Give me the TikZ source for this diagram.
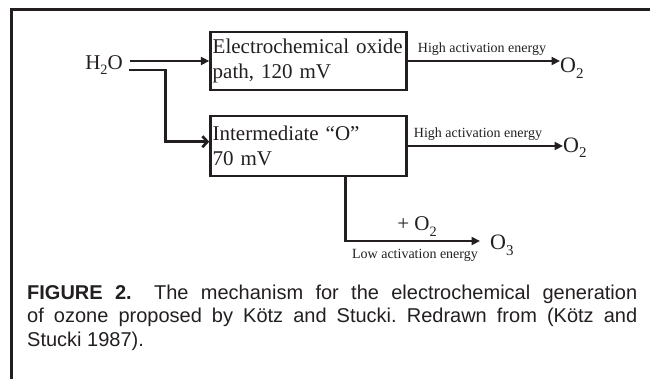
\documentclass[tikz,border=0pt]{standalone}
\usepackage{fontspec}
\usepackage{graphicx}
\setmainfont{Liberation Serif}
\newfontfamily\capfont{Liberation Sans}
\usetikzlibrary{arrows.meta}
\definecolor{ink}{RGB}{35,31,32}
\newcommand{\subsc}[1]{\raisebox{-0.24em}{\scalebox{0.68}{#1}}}
\frenchspacing
\begin{document}
\begin{tikzpicture}[x=1pt,y=-1pt,
  boxnode/.style={draw=ink, line width=2.8, minimum width=196, minimum height=58,
    inner xsep=2, inner ysep=0, text width=192, align=left,
    font=\fontsize{21}{25}\selectfont, text=ink},
  conn/.style={draw=ink, line width=2.7, -{Triangle[length=8.5,width=8]}},
  openconn/.style={draw=ink, line width=2.7, -{Straight Barb[length=5,width=11]}},
  chem/.style={inner sep=0, text=ink, font=\fontsize{21}{25}\selectfont},
  prod/.style={inner sep=0, text=ink, font=\fontsize{22}{26}\selectfont},
  small/.style={inner sep=0, text=ink, font=\fontsize{14}{16}\selectfont},
  captext/.style={inner sep=0, text=ink, anchor=base west, font=\capfont\fontsize{20}{24}\selectfont}]
\useasboundingbox (0,0) rectangle (650,379);
% frame
\draw[ink, line width=3.4] (11.7,379) -- (11.7,9.8) -- (650,9.8);
% boxes
\node[boxnode] (box1) at (308.7,61) {Electrochemical oxide\\path, 120 mV};
\node[boxnode, minimum height=60] (box2) at (308.6,146) {Intermediate “O”\\70 mV};
% H2O
\node[chem, anchor=base] (h2o) at (104,69.5) {H\subsc{2}O};
\coordinate (s1) at ([xshift=7,yshift=8.5]h2o.base east);
\coordinate (s2) at ([xshift=6,yshift=-0.5]h2o.base east);
\coordinate (bend) at (165.5,0);
\draw[conn] (s1) -- (s1 -| box1.west);
\draw[openconn] (s2) -- (s2 -| bend) |- ([yshift=4.3]box2.west);
% products
\node[prod, anchor=base west] (o2a) at (560,73) {O\subsc{2}};
\node[prod, anchor=base west] (o2b) at (563,152.5) {O\subsc{2}};
\node[prod, anchor=base west] (o3) at (490,250) {O\subsc{3}};
\draw[conn] (box1.east) -- (box1.east -| o2a.west);
\draw[conn] (box2.east) -- (box2.east -| o2b.west);
\coordinate (down) at (345.3,241);
\draw[conn] (box2.south -| down) -- (down) -- ([xshift=-10]down -| o3.west);
% labels
\node[small, anchor=base] (l1) at (482,53) {High activation energy};
\node[small, anchor=base] (l2) at (478,138) {High activation energy};
\node[chem, anchor=base] (plus) at (417,231) {+ O\subsc{2}};
\node[small, anchor=base] (l3) at (415,258.5) {Low activation energy};
% caption
\node[captext] (c1) at (27,299) {\makebox[610pt][s]{\textbf{FIGURE 2.}\hspace{10pt} The mechanism for the electrochemical generation}};
\node[captext] (c2) at (27,322.5) {\makebox[610pt][s]{of ozone proposed by Kötz and Stucki. Redrawn from (Kötz and}};
\node[captext] (c3) at (27,346) {Stucki 1987).};
\end{tikzpicture}
\end{document}
